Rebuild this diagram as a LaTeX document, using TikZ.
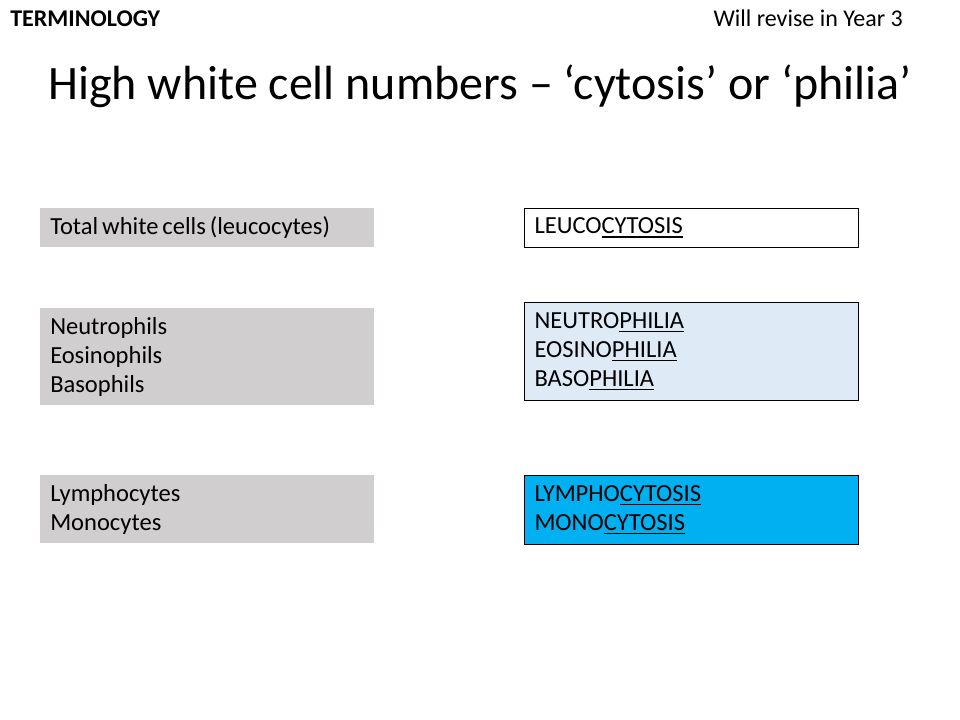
\documentclass[tikz,border=0pt]{standalone}
\usepackage{fontspec}
\setmainfont{Carlito}
\definecolor{boxgrey}{HTML}{D0CECE}
\definecolor{paleblue}{HTML}{DEEBF7}
\definecolor{brightblue}{HTML}{00B0F0}
\newcommand{\ulword}[1]{\setbox0\hbox{#1}\rlap{\rule[-3pt]{\wd0}{1.3pt}}\box0}
\begin{document}
\begin{tikzpicture}[x=0.75pt, y=-0.75pt,
    cellbox/.style={anchor=north west, inner xsep=7.5pt, inner ysep=0pt, text width=235.5pt, align=left,
        font=\fontsize{18.4}{21.75}\selectfont, execute at begin node={\spaceskip=3pt plus 1pt\relax}},
    greybox/.style={cellbox, fill=boxgrey},
    termbox/.style={cellbox, draw=black, line width=0.75pt}]
            \useasboundingbox (0, 0) rectangle (960, 720);
            \node[anchor=base west, inner sep=0pt, font=\fontsize{18}{21}\selectfont\bfseries] (topic) at (10, 27) {TERMINOLOGY};
            \node[anchor=base east, inner sep=0pt, font=\fontsize{18}{21}\selectfont] (revise) at (903, 27) {Will revise in Year 3};
            \node[anchor=base, inner sep=0pt, font=\fontsize{36}{43}\selectfont] (title) at (480, 100) {High white cell numbers -- ‘cytosis’ or ‘philia’};
            \node[greybox, minimum height=29.25pt] (total) at (40, 208) {Total white cells (leucocytes)};
            \node[greybox, minimum height=72.75pt] (granulo) at (40, 308) {Neutrophils\\Eosinophils\\Basophils};
            \node[greybox, minimum height=51pt] (mono) at (40, 475) {Lymphocytes\\Monocytes};
            \node[termbox, fill=white, minimum height=29.25pt] (leuco) at (524, 208) {LEUCO\ulword{CYTOSIS}};
            \node[termbox, fill=paleblue, minimum height=73.5pt] (philia) at (524, 302) {NEUTRO\ulword{PHILIA}\\EOSINO\ulword{PHILIA}\\BASO\ulword{PHILIA}};
            \node[termbox, fill=brightblue, minimum height=51.75pt] (cytosis) at (524, 475) {LYMPHO\ulword{CYTOSIS}\\MONO\ulword{CYTOSIS}};
        \end{tikzpicture}
\end{document}
